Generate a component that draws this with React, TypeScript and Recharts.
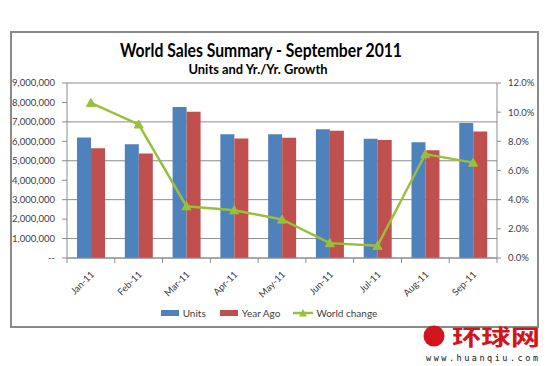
import React from "react";
import { Bar, ComposedChart, CartesianGrid, Legend, Line, XAxis, YAxis } from "recharts";

const months = ["Jan-11", "Feb-11", "Mar-11", "Apr-11", "May-11", "Jun-11", "Jul-11", "Aug-11", "Sep-11"];
const units = [6200000, 5850000, 7770000, 6360000, 6360000, 6620000, 6130000, 5950000, 6940000];
const yearAgo = [5640000, 5380000, 7520000, 6150000, 6180000, 6540000, 6070000, 5540000, 6510000];
const worldChange = [0.1063, 0.0916, 0.0355, 0.0328, 0.0264, 0.0102, 0.0084, 0.0713, 0.0654];
const unitTicks = [0, 1000000, 2000000, 3000000, 4000000, 5000000, 6000000, 7000000, 8000000, 9000000];
const pctTicks = [0, 0.02, 0.04, 0.06, 0.08, 0.1, 0.12];

const data = months.map((m, i) => ({
  month: m,
  units: units[i],
  yearAgo: yearAgo[i],
  change: worldChange[i],
}));

const FONT = "Lato, 'Open Sans', sans-serif";
const GRID = "#8c8c8c";
const TEXT = "#404040";
const BLUE = "#4f81bd";
const RED = "#c0504d";
const GREEN = "#9abf3b";

const PLOT_LEFT = 67;
const PLOT_RIGHT = 497;
const BAND = (PLOT_RIGHT - PLOT_LEFT) / months.length;

function MonthTick(props: any) {
  const { x, y, payload, index } = props;
  return (
    <g transform={`translate(${x},${y})`}>
      <line x1={-BAND / 2} x2={-BAND / 2} y1={0} y2={5} stroke={GRID} />
      {index === months.length - 1 && <line x1={BAND / 2} x2={BAND / 2} y1={0} y2={5} stroke={GRID} />}
      <text
        transform="translate(4,17) rotate(-45)"
        textAnchor="end"
        fontSize={9.5}
        fontFamily={FONT}
        fill={TEXT}
      >
        {payload.value}
      </text>
    </g>
  );
}

function TriangleDot(props: any) {
  const { cx, cy } = props;
  if (cx == null || cy == null) return null;
  const s = 4.5;
  return (
    <polygon
      points={`${cx},${cy - s} ${cx + s},${cy + s * 0.8} ${cx - s},${cy + s * 0.8}`}
      fill={GREEN}
      stroke={GREEN}
    />
  );
}

function LegendBox() {
  const items = [
    { label: "Units", color: BLUE, kind: "bar" },
    { label: "Year Ago", color: RED, kind: "bar" },
    { label: "World change", color: GREEN, kind: "line" },
  ];
  return (
    <div
      style={{
        display: "flex",
        justifyContent: "center",
        alignItems: "center",
        height: 16,
        fontFamily: FONT,
        fontSize: 10,
        color: TEXT,
      }}
    >
      {items.map((it) => (
        <div key={it.label} style={{ display: "flex", alignItems: "center", marginRight: 13 }}>
          <svg width={20} height={10} style={{ marginRight: 3 }}>
            {it.kind === "bar" ? (
              <rect x={1} y={2} width={18} height={6} fill={it.color} />
            ) : (
              <g>
                <line x1={0} x2={20} y1={5} y2={5} stroke={it.color} strokeWidth={2.5} />
                <polygon points="10,1 14,8.5 6,8.5" fill={it.color} />
              </g>
            )}
          </svg>
          <span>{it.label}</span>
        </div>
      ))}
    </div>
  );
}

export default function App() {
  return (
    <div style={{ position: "absolute", left: 0, top: 0, width: 550, height: 366, background: "#fff", overflow: "hidden" }}>
      <div
        style={{
          position: "absolute",
          left: 10,
          top: 31,
          width: 529,
          height: 297,
          border: "2px solid #8a8a8a",
          boxSizing: "border-box",
        }}
      />
      <svg width={550} height={366} style={{ position: "absolute", left: 0, top: 0 }}>
        <text x={261} y={57} textAnchor="middle" fontFamily={FONT} fontWeight={700} fontSize={19} fill="#000" textLength={282} lengthAdjust="spacingAndGlyphs">
          World Sales Summary - September 2011
        </text>
        <text x={258} y={73.5} textAnchor="middle" fontFamily={FONT} fontWeight={700} fontSize={13} fill="#000" textLength={139} lengthAdjust="spacingAndGlyphs">
          Units and Yr./Yr. Growth
        </text>
      </svg>
      <div style={{ position: "absolute", left: 0, top: 0 }}>
        <ComposedChart
          width={550}
          height={366}
          data={data}
          margin={{ top: 83, right: 0, left: 0, bottom: 45 }}
          barCategoryGap="21%"
          barGap={0}
        >
          <CartesianGrid yAxisId="left" vertical={false} stroke={GRID} />
          <XAxis
            dataKey="month"
            height={47}
            tickSize={0}
            tickMargin={0}
            axisLine={{ stroke: GRID }}
            tick={<MonthTick />}
            interval={0}
          />
          <YAxis
            yAxisId="left"
            width={67}
            domain={[0, 9000000]}
            ticks={unitTicks}
            tickSize={5}
            tickMargin={7}
            axisLine={{ stroke: GRID }}
            tickLine={{ stroke: GRID }}
            tick={{ fontSize: 9.5, fontFamily: FONT, fill: TEXT }}
            tickFormatter={(v: number) => (v === 0 ? "--" : v.toLocaleString("en-US"))}
          />
          <YAxis
            yAxisId="right"
            orientation="right"
            width={53}
            domain={[0, 0.12]}
            ticks={pctTicks}
            tickSize={4}
            tickMargin={7}
            axisLine={{ stroke: GRID }}
            tickLine={{ stroke: GRID }}
            tick={{ fontSize: 9.5, fontFamily: FONT, fill: TEXT, textAnchor: "start" }}
            tickFormatter={(v: number) => (v * 100).toFixed(1) + "%"}
          />
          <Bar yAxisId="left" dataKey="units" name="Units" fill={BLUE} isAnimationActive={false} />
          <Bar yAxisId="left" dataKey="yearAgo" name="Year Ago" fill={RED} isAnimationActive={false} />
          <Line
            yAxisId="right"
            dataKey="change"
            name="World change"
            stroke={GREEN}
            strokeWidth={2.5}
            dot={<TriangleDot />}
            activeDot={false}
            isAnimationActive={false}
          />
          <Legend verticalAlign="bottom" content={<LegendBox />} />
        </ComposedChart>
      </div>
      <svg width={550} height={366} style={{ position: "absolute", left: 0, top: 0 }}>
        <circle cx={434} cy={336} r={10.5} fill="#d2141c" />
        <text x={452} y={345} fontFamily="'Noto Sans CJK SC'" fontWeight={700} fontSize={22} fill="#d2141c" textLength={88} lengthAdjust="spacingAndGlyphs">
          环球网
        </text>
        <text x={426} y={361} fontFamily="'DejaVu Sans Mono', monospace" fontSize={8.5} fill="#111" textLength={112} lengthAdjust="spacing">
          www.huanqiu.com
        </text>
      </svg>
    </div>
  );
}
